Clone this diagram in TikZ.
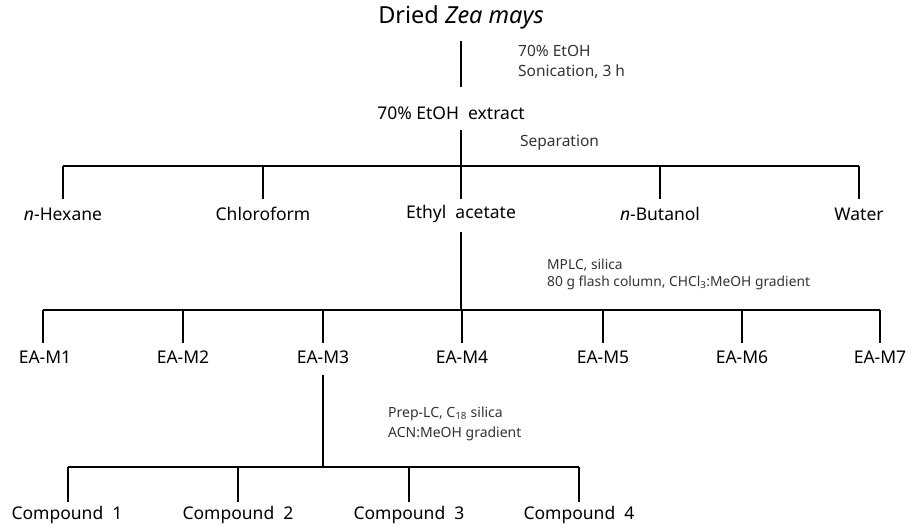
\documentclass[tikz,border=0pt]{standalone}
\usepackage{fontspec}
\setmainfont{Noto Sans}
\usetikzlibrary{calc}
\begin{document}
\begin{tikzpicture}[x=1pt,y=-1pt,
  lbl/.style={inner sep=0pt,anchor=center,font=\fontsize{17.5}{20}\selectfont},
  ttl/.style={inner sep=0pt,anchor=center,font=\fontsize{23.5}{26}\selectfont},
  note/.style={inner sep=0pt,anchor=west,align=left,font=\fontsize{15.5}{20}\selectfont,text=black!80},
  conn/.style={line width=1.3pt,black}]
\useasboundingbox (0,0) rectangle (911,527);
% main nodes
\node[ttl] (dried) at (461,17) {Dried \textit{Zea mays}};
\node[lbl] (ext) at (451,113) {70\% EtOH\ \ extract};
\node[lbl] (hex) at (63,214) {\textit{n}-Hexane};
\node[lbl] (chl) at (263,214) {Chloroform};
\node[lbl] (eta) at (461,214) {Ethyl\ \ acetate};
\node[lbl] (but) at (660,214) {\textit{n}-Butanol};
\node[lbl] (wat) at (859,214) {Water};
\node[lbl] (m1) at (45,357) {EA-M1};
\node[lbl] (m2) at (183,357) {EA-M2};
\node[lbl] (m3) at (323,357) {EA-M3};
\node[lbl] (m4) at (462,357) {EA-M4};
\node[lbl] (m5) at (603,357) {EA-M5};
\node[lbl] (m6) at (742,357) {EA-M6};
\node[lbl] (m7) at (880,357) {EA-M7};
\node[lbl] (c1) at (67,515) {Compound\ \ 1};
\node[lbl] (c2) at (238,515) {Compound\ \ 2};
\node[lbl] (c3) at (409,515) {Compound\ \ 3};
\node[lbl] (c4) at (579,515) {Compound\ \ 4};
% notes
\node[note] (n1) at (518,62) {70\% EtOH\\Sonication, 3 h};
\node[note] (n2) at (520,143) {Separation};
\node[note,font=\fontsize{13.8}{17}\selectfont] (n3) at (547,274.5) {MPLC, silica\\80 g flash column, CHCl\textsubscript{3}:MeOH gradient};
\node[note,font=\fontsize{14}{20}\selectfont] (n4) at (388,424) {Prep-LC, C\textsubscript{18} silica\\ACN:MeOH gradient};
% junctions
\coordinate (j1) at (461,166);
\coordinate (j2) at (461,310);
\coordinate (j3) at (323,467);
\coordinate (b2l) at (43,310);
\coordinate (b3l) at (68,467);
% connectors
\draw[conn] ($(dried.center)+(0,24)$) -- (j1 |- 0,87);
\draw[conn] (j1 |- 0,130) -- (j1);
\draw[conn] (hex.center |- j1) -- (wat.center |- j1);
\foreach \n in {hex,chl,eta,but,wat}
  \draw[conn] (\n.center |- j1) -- ($(\n.center)+(0,-15)$);
\draw[conn] ($(eta.center)+(0,18)$) -- (j2);
\draw[conn] (b2l) -- (m7.center |- j2);
\draw[conn] (b2l) -- (b2l |- 0,343);
\foreach \n in {m2,m3,m4,m5,m6,m7}
  \draw[conn] (\n.center |- j2) -- ($(\n.center)+(0,-14)$);
\draw[conn] ($(m3.center)+(0,18)$) -- (j3);
\draw[conn] (b3l) -- (c4.center |- j3);
\draw[conn] (b3l) -- (b3l |- 0,502);
\foreach \n in {c2,c3,c4}
  \draw[conn] (\n.center |- j3) -- ($(\n.center)+(0,-13)$);
\end{tikzpicture}
\end{document}
